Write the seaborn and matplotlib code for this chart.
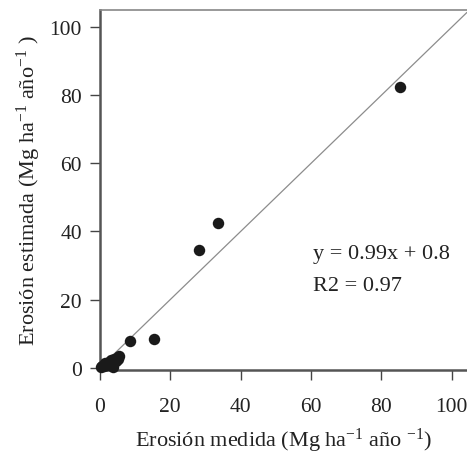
import matplotlib
matplotlib.use("Agg")
import matplotlib.pyplot as plt
import seaborn as sns
import pandas as pd

# Data
erosion_medida = [0.2, 0.5, 1.0, 1.5, 2.0, 2.5, 3.0, 3.5, 3.8, 4.0, 4.5, 5.0, 5.5, 5.2,
                  8.5, 15.3, 28.1, 33.6, 85.4]
erosion_estimada = [0.1, 0.4, 0.6, 1.2, 0.8, 1.5, 2.2, 1.0, 0.3, 2.5, 2.0, 3.2, 3.5, 2.5,
                    7.9, 8.4, 34.5, 42.4, 82.5]
x_ticks = [0, 20, 40, 60, 80, 100]
y_ticks = [0, 20, 40, 60, 80, 100]
line_slope = 1.0
line_intercept = 0.0
equation_text = "y = 0.99x + 0.8"
r2_text = "R2 = 0.97"
x_label = "Erosión medida (Mg ha$^{-1}$ año $^{-1}$)"
y_label = "Erosión estimada (Mg ha$^{-1}$ año$^{-1}$ )"

df = pd.DataFrame({"medida": erosion_medida, "estimada": erosion_estimada})

sns.set_style("white")
plt.rcParams["font.family"] = ["Liberation Serif", "DejaVu Serif"]
plt.rcParams["mathtext.fontset"] = "custom"
plt.rcParams["mathtext.rm"] = "Liberation Serif"
plt.rcParams["mathtext.default"] = "regular"

fig = plt.figure(figsize=(4.67, 4.64), dpi=100)
ax = fig.add_axes([0.2141, 0.1998, 0.7859, 0.7765])

ax.axline((0, line_intercept), slope=line_slope, color="#8c8c8c", lw=0.9, zorder=1)
sns.scatterplot(data=df, x="medida", y="estimada", ax=ax, s=68, color="#1a1a1a",
                edgecolor="#1a1a1a", linewidth=0, zorder=3, clip_on=False)

ax.set_xlim(0, 104.4)
ax.set_ylim(-0.8, 105.1)
ax.set_xticks(x_ticks)
ax.set_yticks(y_ticks)
ax.tick_params(axis="both", direction="out", length=7, width=1, color="#444444",
               labelsize=15.5, labelcolor="#222222", pad=6, bottom=True, left=True)
ax.tick_params(axis="x", pad=12)

for side in ["left", "bottom"]:
    ax.spines[side].set_color("#555555")
    ax.spines[side].set_linewidth(1.8)
ax.spines["top"].set_color("#888888")
ax.spines["top"].set_linewidth(1.2)
ax.spines["right"].set_visible(False)

ax.set_xlabel(x_label, fontsize=16, color="#222222", labelpad=7)
ax.set_ylabel(y_label, fontsize=16, color="#222222", labelpad=5)

ax.text(0.58, 0.324, equation_text, transform=ax.transAxes, fontsize=16, color="#222222",
        ha="left", va="center")
ax.text(0.58, 0.236, r2_text, transform=ax.transAxes, fontsize=16, color="#222222",
        ha="left", va="center")

fig.savefig("out.png", dpi=100)
